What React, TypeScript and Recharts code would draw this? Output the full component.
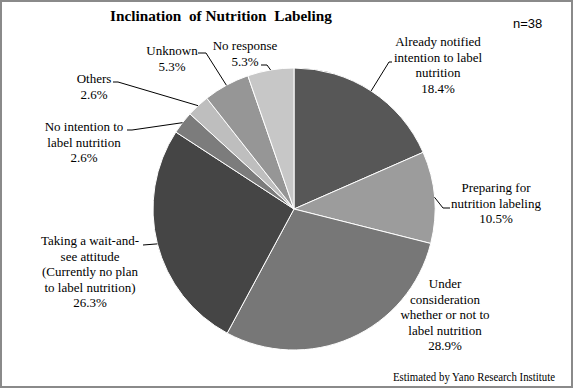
import React from 'react';
import { PieChart, Pie, Cell } from 'recharts';

const categories = [
  'Already notified\nintention to label\nnutrition',
  'Preparing for\nnutrition labeling',
  'Under\nconsideration\nwhether or not to\nlabel nutrition',
  'Taking a wait-and-\nsee attitude\n(Currently no plan\nto label nutrition)',
  'No intention to\nlabel nutrition',
  'Others',
  'Unknown',
  'No response',
];
const values = [18.4, 10.5, 28.9, 26.3, 2.6, 2.6, 5.3, 5.3];
const valueLabels = ['18.4%', '10.5%', '28.9%', '26.3%', '2.6%', '2.6%', '5.3%', '5.3%'];

const colors = ['#575757', '#9c9c9c', '#777777', '#454545', '#7c7c7c', '#bebebe', '#969696', '#c7c7c7'];

// label layout: center x, first baseline, leader points on the label side
const labelLayout = [
  { x: 438, y: 46, leader: [[392, 62], [389, 62]] },
  { x: 496, y: 192, leader: [[450, 208], [443, 208]] },
  { x: 445, y: 288, leader: [] },
  { x: 90, y: 245, leader: [[143, 245]] },
  { x: 84, y: 131, leader: [[127, 130], [132, 130]] },
  { x: 94, y: 83, leader: [[113, 82], [118, 82]] },
  { x: 172, y: 55, leader: [[198, 53], [206, 53]] },
  { x: 245, y: 50, leader: [[261, 65], [267, 65]] },
];

const data = categories.map((name, i) => ({ name, value: values[i], pct: valueLabels[i] }));

const RAD = Math.PI / 180;
const LH = 15.5;
const serif = "'Liberation Serif', 'Times New Roman', serif";
const serifStyle = { fontFamily: serif };

const renderLabel = (props: any) => {
  const { cx, cy, midAngle, outerRadius, index } = props;
  const lay = labelLayout[index];
  const lines = [...categories[index].split('\n'), valueLabels[index]];
  const ex = cx + outerRadius * Math.cos(-midAngle * RAD);
  const ey = cy + outerRadius * Math.sin(-midAngle * RAD);
  const pts = lay.leader.length ? [...lay.leader, [ex, ey]] : [];
  return (
    <g key={`lbl-${index}`}>
      {pts.length > 0 && (
        <polyline
          points={pts.map((p) => p.join(',')).join(' ')}
          fill="none"
          stroke="#000"
          strokeWidth={1}
        />
      )}
      <text
        x={lay.x}
        y={lay.y}
        textAnchor="middle"
        fontFamily={serif}
        style={serifStyle}
        fontSize={13}
        fill="#000"
        stroke="none"
      >
        {lines.map((l, i) => (
          <tspan key={i} x={lay.x} y={lay.y + i * LH} style={serifStyle}>
            {l}
          </tspan>
        ))}
      </text>
    </g>
  );
};

export default function App() {
  return (
    <div style={{ position: 'absolute', left: 0, top: 0, width: 574, height: 389, background: '#fff' }}>
      <PieChart width={574} height={389} margin={{ top: 0, right: 0, bottom: 0, left: 0 }}>
        <rect x={1} y={1} width={571} height={386} fill="#fff" stroke="#8a8a8a" strokeWidth={2} />
        <text
          x={221}
          y={21}
          textAnchor="middle"
          fontWeight="bold"
          fontSize={15}
          fill="#000"
          style={{ whiteSpace: 'pre', fontFamily: serif }}
          textLength={222}
          lengthAdjust="spacingAndGlyphs"
        >
          {'Inclination  of Nutrition  Labeling'}
        </text>
        <text x={513} y={28} style={{ fontFamily: "'Liberation Sans', Arial, sans-serif" }} fontSize={13} fill="#000">
          n=38
        </text>
        <text
          x={393}
          y={381}
          style={serifStyle}
          fontSize={12}
          fill="#000"
          textLength={162}
          lengthAdjust="spacingAndGlyphs"
        >
          Estimated by Yano Research Institute
        </text>
        <Pie
          data={data}
          dataKey="value"
          nameKey="name"
          cx={294}
          cy={209}
          outerRadius={141}
          innerRadius={0}
          startAngle={90}
          endAngle={-270}
          stroke="#fff"
          strokeWidth={1}
          label={renderLabel}
          labelLine={false}
          isAnimationActive={false}
        >
          {data.map((d, i) => (
            <Cell key={d.name} fill={colors[i]} />
          ))}
        </Pie>
      </PieChart>
    </div>
  );
}
